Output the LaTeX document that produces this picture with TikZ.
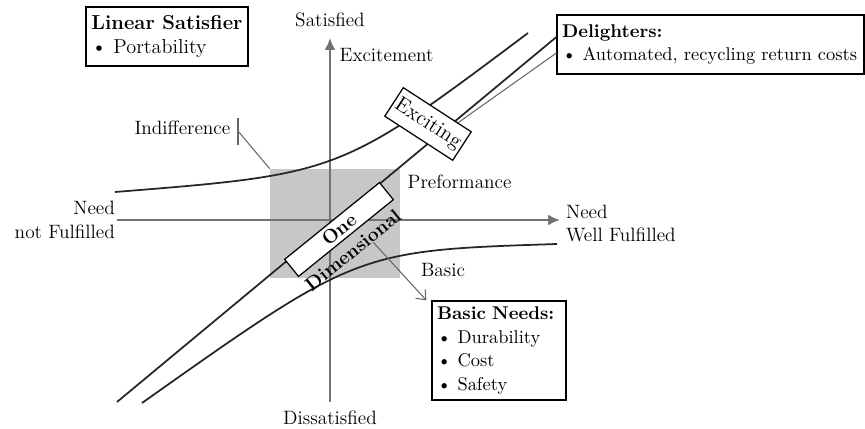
\documentclass[tikz,border=0pt]{standalone}
\usepackage{amsmath}
\usepackage{tikz}
\usetikzlibrary{positioning, arrows.meta}

\begin{document}
\begin{tikzpicture}[
		every node/.style={font=\fontsize{11}{13.5}\selectfont},
		axis/.style={draw=black!55, line width=1.2pt, -{Latex[length=2.4mm, width=2.2mm]}},
		curve/.style={draw=black!85, line width=1pt},
		leader/.style={draw=black!60, line width=0.6pt},
		infobox/.style={draw, line width=0.7pt, align=left, inner sep=0.1cm, fill=white,
			font=\fontsize{10.5}{13.5}\selectfont},
		tag/.style={draw, line width=0.7pt, fill=white, inner sep=1pt}
	]
  \useasboundingbox (-6.6,-4.18) rectangle (10.7,4.4);
  \node (sq) [fill=black!22, inner sep=0pt, minimum width=2.6cm, minimum height=2.18cm] at (0.1,-0.07) {};
  \coordinate (xl) at (-4.26,0);
  \coordinate (xr) at (4.6,0);
  \coordinate (yb) at (0,-3.64);
  \coordinate (yt) at (0,3.64);
  \draw[axis] (xl) -- (xr);
  \draw[axis] (yb) -- (yt);
  \node (linsat) [infobox, minimum width=3.24cm, minimum height=1.18cm,
    font=\fontsize{11.5}{14}\selectfont] at (-3.26,3.67)
    {\textbf{Linear Satisfier}\\\textbullet{} Portability};
  \node (delight) [infobox, text width=5.94cm, minimum height=1.18cm] at (7.61,3.51)
    {\textbf{Delighters:}\\\textbullet{} Automated, recycling return costs};
  \node (needs) [infobox, text width=2.48cm, minimum height=1.98cm] at (3.38,-2.61)
    {\textbf{Basic Needs:}\\\textbullet{} Durability\\\textbullet{} Cost\\\textbullet{} Safety};
  \coordinate (exc0) at (-4.3,0.56);
  \coordinate (exc1) at (3.96,3.74);
  \coordinate (bas0) at (-3.76,-3.66);
  \coordinate (bas1) at (4.54,-0.48);
  \coordinate (od0) at (-4.26,-3.64);
  \coordinate (tick) at (-1.84,1.78);
  \coordinate (excpt) at (2.44,1.86);
  \coordinate (bfrom) at (0.86,-0.44);
  \draw[curve] (exc0) .. controls (0.2,0.92) .. (exc1);
  \draw[curve] (bas0) .. controls (0.55,-0.61) .. (bas1);
  \draw[curve] (od0) -- ([yshift=0.15cm]delight.west);
  \draw[leader] ([yshift=-0.17cm]delight.west) -- (excpt);
  \draw[leader] ([yshift=0.26cm]tick) -- ([yshift=-0.28cm]tick);
  \draw[leader] (tick) -- (sq.north west);
  \node (exc) [tag, rotate=-33, minimum width=1.62cm, minimum height=0.68cm, font=\fontsize{12}{14}\selectfont] at (1.96,1.92) {Exciting};
  \node (one) [tag, rotate=39, minimum width=2.44cm, minimum height=0.44cm] at (0.18,-0.19) {\textbf{One}};
  \node (dim) [rotate=39] at (0.46,-0.6) {\textbf{Dimensional}};
  \draw[leader, -{Straight Barb[length=1.6mm, width=2.6mm]}] (bfrom) -- ([xshift=-0.1cm]needs.north west);
  \node (sat) [above=0.1cm of yt] {Satisfied};
  \node (dis) [below=0.05cm of yb] {Dissatisfied};
  \node (nlo) [left=0cm of xl, align=right, inner sep=1pt] {Need\\not Fulfilled};
  \node (nhi) [right=0.08cm of xr, yshift=-0.07cm, align=left, inner sep=1pt] {Need\\Well Fulfilled};
  \node (excl) [anchor=west] at (0.07,3.3) {Excitement};
  \node (perf) [anchor=west] at (1.43,0.76) {Preformance};
  \node (bas) at (2.26,-1) {Basic};
  \node (indiff) [left=0.03cm of tick, yshift=0.06cm] {Indifference};
\end{tikzpicture}
\end{document}
